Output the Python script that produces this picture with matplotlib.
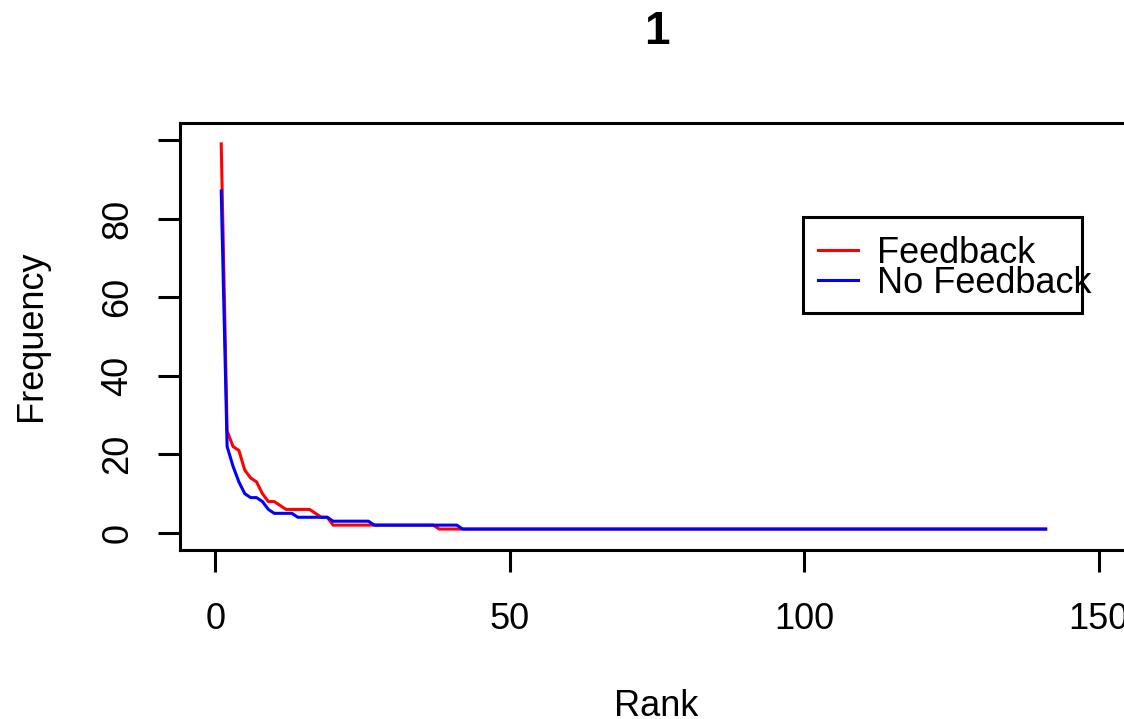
import matplotlib
matplotlib.use("Agg")
import matplotlib.pyplot as plt
from matplotlib.patches import Rectangle
from matplotlib.lines import Line2D

# ---- data ----
title = "1"
x_label = "Rank"
y_label = "Frequency"
series_names = ["Feedback", "No Feedback"]
series_colors = ["#FF0000", "#0000FF"]

feedback = [99, 26, 22, 21, 16, 14, 13, 10, 8, 8, 7, 6, 6, 6, 6, 6, 5, 4, 4,
            2, 2, 2, 2, 2, 2, 2, 2, 2, 2, 2, 2, 2, 2, 2, 2, 2, 2,
            1, 1, 1, 1, 1, 1, 1, 1, 1, 1, 1, 1, 1, 1, 1, 1, 1, 1, 1, 1,
            1, 1, 1, 1, 1, 1, 1, 1, 1, 1, 1, 1, 1, 1, 1, 1, 1, 1, 1, 1,
            1, 1, 1, 1, 1, 1, 1, 1, 1, 1, 1, 1, 1, 1, 1, 1, 1, 1, 1, 1,
            1, 1, 1, 1, 1, 1, 1, 1, 1, 1, 1, 1, 1, 1, 1, 1, 1, 1, 1, 1,
            1, 1, 1, 1, 1, 1, 1, 1, 1, 1, 1, 1, 1, 1, 1, 1, 1, 1, 1, 1,
            1, 1, 1, 1]
no_feedback = [87, 22, 17, 13, 10, 9, 9, 8, 6, 5, 5, 5, 5, 4, 4, 4, 4, 4, 4,
               3, 3, 3, 3, 3, 3, 3,
               2, 2, 2, 2, 2, 2, 2, 2, 2, 2, 2, 2, 2, 2, 2,
               1, 1, 1, 1, 1, 1, 1, 1, 1, 1, 1, 1, 1, 1, 1, 1, 1, 1, 1, 1,
               1, 1, 1, 1, 1, 1, 1, 1, 1, 1, 1, 1, 1, 1, 1, 1, 1, 1, 1, 1,
               1, 1, 1, 1, 1, 1, 1, 1, 1, 1, 1, 1, 1, 1, 1, 1, 1, 1, 1, 1,
               1, 1, 1, 1, 1, 1, 1, 1, 1, 1, 1, 1, 1, 1, 1, 1, 1, 1, 1, 1,
               1, 1, 1, 1, 1, 1, 1, 1, 1, 1, 1, 1, 1, 1, 1, 1, 1, 1, 1, 1]
ranks_fb = list(range(1, len(feedback) + 1))
ranks_nf = list(range(1, len(no_feedback) + 1))

x_ticks = [0, 50, 100, 150]
x_tick_labels = ["0", "50", "100", "150"]
y_ticks = [0, 20, 40, 60, 80, 100]
y_tick_labels = ["0", "20", "40", "60", "80", ""]

# ---- figure ----
W, H = 1124, 719
plt.rcParams["font.family"] = ["Liberation Sans", "DejaVu Sans"]
fig = plt.figure(figsize=(W / 100, H / 100), dpi=100)


def fx(px):
    return px / W


def fy(py):
    return 1 - py / H


left, right, top, bottom = 180, 1134, 123, 549.5
ax = fig.add_axes([fx(left), fy(bottom), (right - left) / W, (bottom - top) / H])

lw = 2.2
ax.plot(ranks_fb, feedback, color=series_colors[0], lw=lw, solid_joinstyle="round")
ax.plot(ranks_nf, no_feedback, color=series_colors[1], lw=lw, solid_joinstyle="round")

ax.set_xlim(-6, 156)
ax.set_ylim(-4.2, 104.3)

for s in ax.spines.values():
    s.set_linewidth(2.2)
    s.set_color("black")

ax.set_xticks(x_ticks)
ax.set_xticklabels(x_tick_labels)
ax.set_yticks(y_ticks)
ax.set_yticklabels(y_tick_labels, rotation=90, va="center")
ax.tick_params(axis="both", direction="out", length=16, width=2.2,
               labelsize=26, colors="black")
ax.tick_params(axis="x", pad=22)
ax.tick_params(axis="y", pad=16)

fig.text(fx(657), fy(32), title, ha="center", va="center",
         fontsize=33, fontweight="bold")
fig.text(fx(656.5), fy(716), x_label, ha="center", va="baseline", fontsize=26)
fig.text(fx(32), fy(336), y_label, ha="center", va="center",
         rotation=90, fontsize=26)

# legend (drawn as in the R output: text overflows the box)
fig.add_artist(Rectangle((fx(803), fy(313)), (1082 - 803) / W, (313 - 217) / H,
                         transform=fig.transFigure, fill=False,
                         edgecolor="black", lw=2.2))
leg_y_line = [250, 280]
leg_y_base = [263, 293]
for name, col, yl, yb in zip(series_names, series_colors, leg_y_line, leg_y_base):
    fig.add_artist(Line2D([fx(818), fx(858)], [fy(yl), fy(yl)],
                          transform=fig.transFigure, color=col, lw=lw))
    fig.text(fx(877), fy(yb), name, ha="left", va="baseline", fontsize=26)

fig.savefig("out.png", dpi=100)
